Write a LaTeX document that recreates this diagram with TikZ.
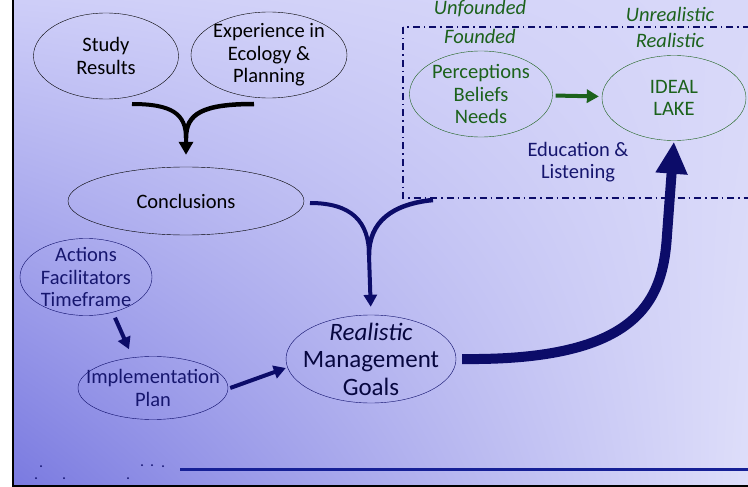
\documentclass[tikz,border=0pt]{standalone}
\usepackage{fontspec}
\setmainfont{Carlito}
\usepackage{xcolor}
\usepackage{tikz}
\usetikzlibrary{shapes.geometric, arrows.meta, positioning, shadings}

\definecolor{navy}{RGB}{12,12,105}
\definecolor{leaf}{RGB}{28,98,28}
\definecolor{inkblue}{RGB}{22,22,110}
\definecolor{rule}{RGB}{22,32,150}
\definecolor{bgLL}{RGB}{122,122,224}
\definecolor{bgUL}{RGB}{206,206,248}
\definecolor{bgLR}{RGB}{222,222,250}
\definecolor{bgUR}{RGB}{216,216,249}

\begin{document}
\begin{tikzpicture}[x=1pt, y=-1pt,
  blob/.style={ellipse, draw, inner sep=-22pt, align=center,
               font=\fontsize{20.5}{22.5}\selectfont},
  greenblob/.style={blob, draw=leaf, text=leaf},
  navyblob/.style={blob, draw=navy, text=inkblue},
  tag/.style={font=\fontsize{20.5}{22.5}\selectfont\itshape, text=leaf},
  fork/.style={line width=4.5pt, line cap=butt},
  arrow/.style={->, >={Triangle[length=12pt, width=13pt]}, line width=4pt}
]
\useasboundingbox (0,0) rectangle (748,487);
\clip (0,0) rectangle (748,487);

% backdrop
\fill[white] (0,0) rectangle (748,487);
\shade[lower left=bgLL, upper left=bgUL, lower right=bgLR, upper right=bgUR]
  (13,0) rectangle (748,485);
\draw[line width=2pt] (13,0) -- (13,486) -- (748,486);
\draw[rule, line width=3pt] (180,469) -- (748,469);
\foreach \px/\py in {41/466, 36/478, 64/478, 128/478, 142/465, 152/465, 163/466}
  \fill[navy] (\px,\py) circle (1pt);

% inputs
\node[blob, minimum width=145pt, minimum height=86pt] (study) at (106,56) {Study\\Results};
\node[blob, minimum width=156pt, minimum height=86pt] (exper) at (269,55) {Experience in\\Ecology \&\\Planning};
\node[blob, minimum width=236pt, minimum height=68pt] (concl) at (186,201) {Conclusions};

% planning side
\node[navyblob, minimum width=132pt, minimum height=77pt] (actions) at (86,277) {Actions\\Facilitators\\Timeframe};
\node[navyblob, minimum width=150pt, minimum height=63pt] (implan) at (153,388) {Implementation\\Plan};
\node[navyblob, text=navy!60!black, minimum width=170pt, minimum height=88pt,
      font=\fontsize{25}{27.5}\selectfont] (goals) at (371,359) {\textit{Realistic}\\Management\\Goals};

% stakeholder box
\draw[navy, line width=1.3pt, dash pattern=on 7pt off 4pt on 1.5pt off 4pt]
  (403,27) rectangle (760,198);
\node[greenblob, minimum width=143pt, minimum height=86pt] (percep) at (481,94) {Perceptions\\Beliefs\\Needs};
\node[greenblob, minimum width=144pt, minimum height=85pt] (lake) at (674,98) {IDEAL\\LAKE};
\node[tag] (unfound) at (480,9) {Unfounded};
\node[tag] (found) at (480,36) {Founded};
\node[tag] (unreal) at (670,14) {Unrealistic};
\node[tag] (real) at (670,40) {Realistic};
\node[align=center, text=inkblue, font=\fontsize{20.5}{22.5}\selectfont] (educ) at (578,162) {Education \&\\Listening};

% study + experience -> conclusions
\coordinate (studyout) at (132,104);
\coordinate (experout) at (254,104);
\draw[fork, arrow, >={Triangle[length=13pt, width=14pt]}, shorten >=12pt]
  (studyout) .. controls (172,104) and (186,114) .. (186,138) -- (concl.north);
\draw[fork] (experout) .. controls (202,104) and (186,114) .. (186,138);

% conclusions + box -> goals
\coordinate (conclout) at (310,203);
\coordinate (boxout) at (433,200);
\draw[fork, navy, arrow, shorten >=8pt]
  (conclout) .. controls (352,203) and (369,222) .. (369,255) -- (goals.north);
\draw[fork, navy] (boxout) .. controls (392,204) and (369,222) .. (369,255);

% planning chain
\draw[arrow, navy] ([xshift=29pt, yshift=-2pt]actions.south) -- ([xshift=-24pt, yshift=7pt]implan.north);
\draw[arrow, navy] ([xshift=2pt]implan.east) -- ([yshift=-9pt]goals.west);

% goals -> ideal lake
\draw[navy, line width=10pt, ->, >={Triangle[length=32pt, width=30pt]}, shorten >=1pt]
  ([xshift=6pt]goals.east) .. controls (640,361) and (663,300) .. (667,235) -- (lake.south);

% perceptions -> ideal lake
\draw[arrow, leaf, shorten <=3pt, shorten >=3pt] (percep) -- (lake);
\end{tikzpicture}
\end{document}
